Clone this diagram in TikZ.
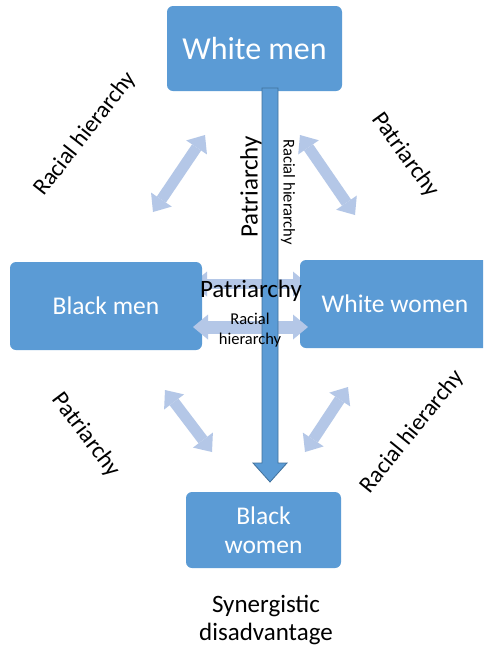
\documentclass[tikz,border=0pt]{standalone}
\usepackage{fontspec}
\setmainfont{Carlito}
\usetikzlibrary{arrows.meta,calc}
\definecolor{boxblue}{HTML}{5B9BD5}
\definecolor{lightarrow}{HTML}{B4C7E7}
\definecolor{edgeblue}{HTML}{41719C}
\newcommand{\fs}[1]{\fontsize{#1}{#1}\selectfont}
\begin{document}
\begin{tikzpicture}[x=1pt,y=-1pt,
  box/.style={fill=boxblue, rounded corners=6pt, text=white, align=center, inner sep=0pt},
  dbl/.style={draw=lightarrow, line width=11pt,
    {Triangle[width=25pt,length=15pt,line width=0pt,fill=lightarrow]}-{Triangle[width=25pt,length=15pt,line width=0pt,fill=lightarrow]}},
  lbl/.style={text=black, inner sep=0pt, align=center},
  bigarrow/.style={draw=edgeblue, fill=boxblue, line width=0.8pt}]
\clip (0,0) rectangle (483,657);
\fill[white] (0,0) rectangle (483,657);
% coordinates for the light arrows
\coordinate (pl) at (192,284);
\coordinate (pr) at (308,284);
\coordinate (rl) at (193,327);
\coordinate (rr) at (308,327);
\coordinate (ula) at (153,212);
\coordinate (ulb) at (205,135);
\coordinate (ura) at (300,135);
\coordinate (urb) at (355,215);
\coordinate (lla) at (165,390);
\coordinate (llb) at (212,452);
\coordinate (lra) at (305,452);
\coordinate (lrb) at (348,387);
% horizontal patriarchy arrow behind boxes
\draw[dbl, line width=10pt] (pl) -- (pr);
% boxes
\node[box, minimum width=175pt, minimum height=85pt, font=\fs{32}] (wm) at (254.5,48.5) {White men};
\node[box, minimum width=192pt, minimum height=88pt, font=\fs{25.5}] (bm) at (106,306) {Black men};
\node[box, minimum width=190pt, minimum height=88pt, font=\fs{25.5}] (ww) at (395,304) {White women};
\node[box, minimum width=155pt, minimum height=76pt, font=\fontsize{25.5}{29}\selectfont] (bw) at (263.5,530) {Black\\women};
% light arrows
\draw[dbl, line width=13pt] (rl) -- (rr);
\draw[dbl] (ula) -- (ulb);
\draw[dbl] (ura) -- (urb);
\draw[dbl] (lla) -- (llb);
\draw[dbl] (lra) -- (lrb);
% central arrow
\coordinate (top) at (270,88);
\coordinate (tip) at (270,482);
\draw[bigarrow] ($(top)+(-8,0)$) -- ($(tip)+(-8,-19)$) -- ($(tip)+(-17,-19)$) -- (tip)
  -- ($(tip)+(17,-19)$) -- ($(tip)+(8,-19)$) -- ($(top)+(8,0)$) -- cycle;
% labels
\node[lbl, rotate=52, font=\fs{23.5}] (l1) at (85,134) {Racial hierarchy};
\node[lbl, rotate=-54, font=\fs{24}] (l2) at (405,155) {Patriarchy};
\node[lbl, rotate=-53, font=\fs{24}] (l3) at (86,435) {Patriarchy};
\node[lbl, rotate=51, font=\fs{23.5}] (l4) at (412,432) {Racial hierarchy};
\node[lbl, rotate=90, font=\fs{25}] (l5) at (251,187) {Patriarchy};
\node[lbl, rotate=-90, font=\fs{16.5}] (l6) at (288,192) {Racial hierarchy};
\node[lbl, font=\fs{25}] (l7) at (251,291) {Patriarchy};
\node[lbl, font=\fontsize{16.5}{20}\selectfont] (l8) at (250,330) {Racial\\hierarchy};
\node[lbl, font=\fontsize{25}{28}\selectfont] (l9) at (266,620) {Synergistic\\disadvantage};
\end{tikzpicture}
\end{document}
